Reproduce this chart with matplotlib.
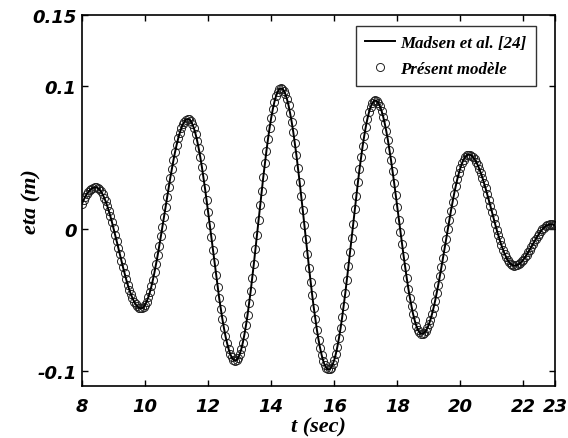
import numpy as np
import matplotlib
matplotlib.use("Agg")
import matplotlib.pyplot as plt
from matplotlib.lines import Line2D

# free surface elevation at the gauge, sampled every 0.05 s from 8 to 23 s
t_start, t_end = 8.0, 23.0
eta = [
    0.0176, 0.0201, 0.0223, 0.0242, 0.0257, 0.0270, 0.0280, 0.0286, 0.0290, 0.0290,
    0.0285, 0.0276, 0.0261, 0.0242, 0.0218, 0.0191, 0.0159, 0.0124, 0.0086, 0.0045,
    0.0001, -0.0043, -0.0089, -0.0135, -0.0181, -0.0227, -0.0271, -0.0315, -0.0356, -0.0394,
    -0.0429, -0.0461, -0.0488, -0.0512, -0.0531, -0.0546, -0.0555, -0.0560, -0.0559, -0.0551,
    -0.0535, -0.0513, -0.0483, -0.0448, -0.0406, -0.0358, -0.0305, -0.0247, -0.0186, -0.0122,
    -0.0055, 0.0014, 0.0084, 0.0154, 0.0223, 0.0292, 0.0358, 0.0421, 0.0481, 0.0537,
    0.0588, 0.0633, 0.0672, 0.0706, 0.0733, 0.0752, 0.0765, 0.0770, 0.0767, 0.0755,
    0.0733, 0.0704, 0.0665, 0.0618, 0.0564, 0.0503, 0.0435, 0.0361, 0.0283, 0.0201,
    0.0115, 0.0028, -0.0061, -0.0150, -0.0237, -0.0324, -0.0408, -0.0488, -0.0563, -0.0633,
    -0.0697, -0.0755, -0.0804, -0.0846, -0.0880, -0.0905, -0.0920, -0.0927, -0.0923, -0.0909,
    -0.0883, -0.0847, -0.0801, -0.0744, -0.0679, -0.0606, -0.0524, -0.0437, -0.0344, -0.0246,
    -0.0146, -0.0044, 0.0060, 0.0163, 0.0265, 0.0364, 0.0458, 0.0548, 0.0632, 0.0709,
    0.0778, 0.0838, 0.0888, 0.0929, 0.0958, 0.0977, 0.0985, 0.0982, 0.0968, 0.0944,
    0.0909, 0.0865, 0.0810, 0.0748, 0.0678, 0.0599, 0.0515, 0.0424, 0.0330, 0.0232,
    0.0131, 0.0028, -0.0074, -0.0176, -0.0276, -0.0373, -0.0467, -0.0555, -0.0636, -0.0712,
    -0.0779, -0.0838, -0.0888, -0.0929, -0.0960, -0.0979, -0.0989, -0.0988, -0.0976, -0.0954,
    -0.0922, -0.0879, -0.0828, -0.0767, -0.0699, -0.0623, -0.0540, -0.0452, -0.0360, -0.0263,
    -0.0165, -0.0065, 0.0035, 0.0135, 0.0232, 0.0325, 0.0416, 0.0500, 0.0580, 0.0651,
    0.0715, 0.0770, 0.0816, 0.0853, 0.0879, 0.0894, 0.0900, 0.0895, 0.0882, 0.0859,
    0.0827, 0.0787, 0.0739, 0.0684, 0.0622, 0.0553, 0.0480, 0.0402, 0.0320, 0.0236,
    0.0150, 0.0063, -0.0024, -0.0109, -0.0193, -0.0273, -0.0350, -0.0422, -0.0487, -0.0546,
    -0.0600, -0.0644, -0.0681, -0.0709, -0.0728, -0.0738, -0.0739, -0.0733, -0.0720, -0.0700,
    -0.0673, -0.0639, -0.0600, -0.0555, -0.0506, -0.0451, -0.0394, -0.0332, -0.0269, -0.0203,
    -0.0137, -0.0070, -0.0004, 0.0061, 0.0125, 0.0185, 0.0243, 0.0296, 0.0345, 0.0388,
    0.0427, 0.0458, 0.0484, 0.0503, 0.0515, 0.0520, 0.0518, 0.0513, 0.0502, 0.0487,
    0.0469, 0.0446, 0.0419, 0.0389, 0.0356, 0.0320, 0.0282, 0.0242, 0.0201, 0.0160,
    0.0117, 0.0075, 0.0034, -0.0007, -0.0045, -0.0082, -0.0116, -0.0147, -0.0175, -0.0200,
    -0.0220, -0.0237, -0.0249, -0.0257, -0.0260, -0.0259, -0.0256, -0.0250, -0.0241, -0.0230,
    -0.0217, -0.0202, -0.0185, -0.0167, -0.0148, -0.0129, -0.0109, -0.0089, -0.0070, -0.0052,
    -0.0035, -0.0019, -0.0005, 0.0007, 0.0016, 0.0023, 0.0028, 0.0030, 0.0030, 0.0027,
    0.0022,
]
t = np.linspace(t_start, t_end, len(eta))

xticks = [8, 10, 12, 14, 16, 18, 20, 22, 23]
yticks = [-0.1, 0, 0.1, 0.15]
ytick_labels = ["-0.1", "0", "0.1", "0.15"]

tick_font = dict(family="DejaVu Sans", weight="bold", style="italic", size=13)
label_font = dict(family="Liberation Serif", weight="bold", style="italic", size=16)

fig = plt.figure(figsize=(5.68, 4.39), dpi=100)
ax = fig.add_axes([0.1444, 0.1185, 0.8327, 0.8451])

ax.plot(t, eta, linestyle="none", marker="o", markersize=5.8,
        markerfacecolor="none", markeredgecolor="#222222", markeredgewidth=0.7)
ax.plot(t, eta, color="black", linewidth=1.4)

ax.set_xlim(8, 23)
ax.set_ylim(-0.1105, 0.15)
ax.set_xticks(xticks)
ax.set_xticklabels([str(v) for v in xticks], fontdict=tick_font)
ax.set_yticks(yticks)
ax.set_yticklabels(ytick_labels, fontdict=tick_font)
ax.tick_params(direction="in", length=4, width=1, top=True, right=True)
ax.tick_params(axis="x", pad=8)
ax.tick_params(axis="y", pad=4)
for s in ax.spines.values():
    s.set_linewidth(1.2)

ax.set_xlabel("t (sec)", fontdict=label_font, labelpad=1)
ax.set_ylabel("eta (m)", fontdict=label_font)
ax.yaxis.set_label_coords(-0.085, 0.5)

handles = [
    Line2D([], [], color="black", linewidth=1.4),
    Line2D([], [], linestyle="none", marker="o", markersize=5.8,
           markerfacecolor="none", markeredgecolor="#222222", markeredgewidth=0.7),
]
leg = ax.legend(handles, ["Madsen et al. [24]", "Présent modèle"],
                loc="upper right", bbox_to_anchor=(0.960, 0.970), borderaxespad=0,
                prop=dict(family="Liberation Serif", weight="bold", style="italic", size=12.2),
                frameon=True, fancybox=False, handlelength=1.8, handletextpad=0.3,
                labelspacing=0.55, borderpad=0.55, numpoints=1)
leg.get_frame().set_edgecolor("black")
leg.get_frame().set_linewidth(1.0)

fig.savefig("out.png", dpi=100)
